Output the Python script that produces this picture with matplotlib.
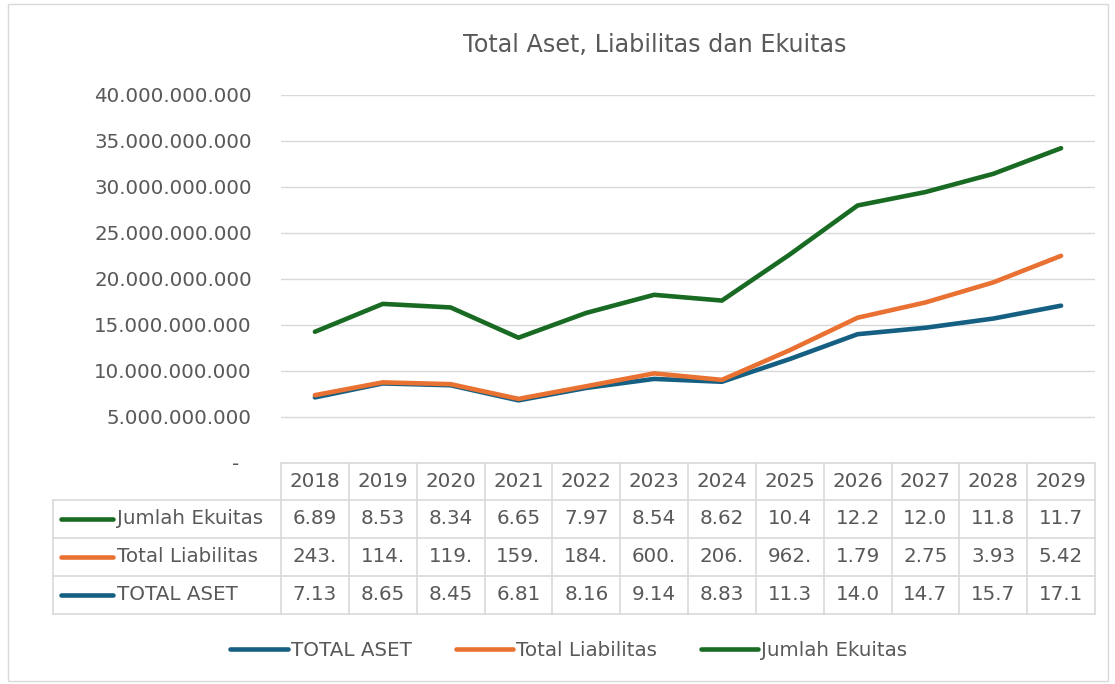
import numpy as np
import matplotlib
matplotlib.use("Agg")
import matplotlib.pyplot as plt
from matplotlib.transforms import blended_transform_factory
from matplotlib.lines import Line2D
from matplotlib.patches import Rectangle

years = ["2018", "2019", "2020", "2021", "2022", "2023", "2024", "2025", "2026", "2027", "2028", "2029"]
total_aset = [7.13e9, 8.65e9, 8.45e9, 6.81e9, 8.16e9, 9.14e9, 8.83e9, 11.3e9, 14.0e9, 14.7e9, 15.7e9, 17.1e9]
total_liabilitas = [243e6, 114e6, 119e6, 159e6, 184e6, 600e6, 206e6, 962e6, 1.79e9, 2.75e9, 3.93e9, 5.42e9]
jumlah_ekuitas = [6.89e9, 8.53e9, 8.34e9, 6.65e9, 7.97e9, 8.54e9, 8.62e9, 10.4e9, 12.2e9, 12.0e9, 11.8e9, 11.7e9]
series_names = ["TOTAL ASET", "Total Liabilitas", "Jumlah Ekuitas"]
colors = ["#156082", "#E97132", "#196B24"]
yticks = [0, 5e9, 10e9, 15e9, 20e9, 25e9, 30e9, 35e9, 40e9]

W, H = 1115, 684
TXT = "#595959"
GRID = "#D9D9D9"
FS = 14.3
plt.rcParams["font.family"] = ["DejaVu Sans"]

fig = plt.figure(figsize=(W / 100, H / 100), dpi=100)

def fx(px):
    return px / W

def fy(py):
    return 1 - py / H

ax_l, ax_r, ax_t, ax_b = 281, 1095, 95, 463
ax = fig.add_axes([fx(ax_l), fy(ax_b), fx(ax_r - ax_l), (ax_b - ax_t) / H])

fig.patches.append(Rectangle((fx(8), fy(681)), fx(1100), (681 - 4) / H,
                             transform=fig.transFigure, fill=False, ec=GRID, lw=1))

def fmt(v):
    s = f"{int(round(v)):,}".replace(",", ".")
    return s

x = np.arange(len(years))
data = [total_aset, total_liabilitas, jumlah_ekuitas]
stack = np.cumsum(np.array(data, dtype=float), axis=0)
for i in range(3):
    ax.plot(x, stack[i], color=colors[i], lw=3.3, solid_capstyle="round",
            solid_joinstyle="round", zorder=3 + i)

ax.set_xlim(-0.5, len(years) - 0.5)
ax.set_ylim(0, 40e9)
ax.set_yticks(yticks)
ax.set_yticklabels([fmt(v) if v > 0 else "-  " for v in yticks])
ax.tick_params(axis="y", length=0, pad=21, labelsize=FS, labelcolor=TXT)
ax.set_xticks([])
ax.grid(axis="y", color=GRID, lw=1)
ax.set_axisbelow(True)
for s in ax.spines.values():
    s.set_visible(False)

fig.text(fx(655), fy(45), "Total Aset, Liabilitas dan Ekuitas", ha="center", va="center",
         fontsize=17.2, color=TXT)

# Data table
tr = blended_transform_factory(ax.transData, fig.transFigure)
rows_y = [463, 500, 538, 576, 614]
line_kw = dict(color=GRID, lw=1.2, clip_on=False)
fig.lines.append(Line2D([fx(ax_l), fx(ax_r)], [fy(rows_y[0])] * 2, transform=fig.transFigure, **line_kw))
for ry in rows_y[1:]:
    fig.lines.append(Line2D([fx(53), fx(ax_r)], [fy(ry)] * 2, transform=fig.transFigure, **line_kw))
for b in np.arange(len(years) + 1) - 0.5:
    fig.lines.append(Line2D([b, b], [fy(rows_y[0]), fy(rows_y[-1])], transform=tr, **line_kw))
fig.lines.append(Line2D([fx(53), fx(53)], [fy(rows_y[1]), fy(rows_y[-1])], transform=fig.transFigure, **line_kw))

hy = fy((rows_y[0] + rows_y[1]) / 2)
for i, yr in enumerate(years):
    fig.text(i, hy, yr, transform=tr, ha="center", va="center", fontsize=FS, color=TXT)

table_order = [2, 1, 0]
for r, si in enumerate(table_order):
    cy = fy((rows_y[r + 1] + rows_y[r + 2]) / 2)
    fig.lines.append(Line2D([fx(61), fx(113)], [cy, cy], transform=fig.transFigure,
                            color=colors[si], lw=3.3, solid_capstyle="round"))
    fig.text(fx(117), cy, series_names[si], ha="left", va="center", fontsize=FS, color=TXT)
    for i, v in enumerate(data[si]):
        fig.text(i, cy, fmt(v)[:4], transform=tr, ha="center", va="center", fontsize=FS, color=TXT)

handles = [Line2D([], [], color=c, lw=3.3, solid_capstyle="round") for c in colors]
fig.legend(handles, series_names, loc="center", bbox_to_anchor=(fx(569), fy(650)), ncol=3,
           frameon=False, fontsize=FS, labelcolor=TXT, handlelength=2.9, handletextpad=0.15,
           columnspacing=2.2)

fig.savefig("out.png", dpi=100)
